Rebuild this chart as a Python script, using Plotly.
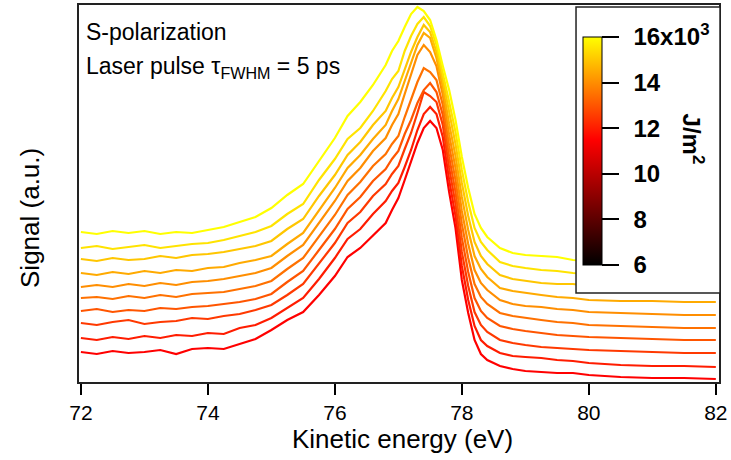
import plotly.graph_objects as go
from plotly.colors import sample_colorscale

FONT = "Liberation Sans, Arial, sans-serif"

# Kinetic energy grid (eV)
energy = [72.0, 72.25, 72.5, 72.75, 73.0, 73.25, 73.5, 73.75, 74.0, 74.25, 74.5, 74.75,
          75.0, 75.25, 75.5, 75.75, 76.0, 76.2, 76.4, 76.6, 76.8, 76.9, 77.0, 77.1,
          77.2, 77.3, 77.4, 77.5, 77.6, 77.7, 77.8, 77.9, 78.0, 78.1, 78.2, 78.3,
          78.4, 78.6, 78.8, 79.0, 79.25, 79.5, 79.75, 80.0, 80.5, 81.0, 81.5, 82.0]

# Offset spectra (a.u.), lowest fluence (red) to highest (yellow)
sig_1 = [48, 46, 49, 47, 48, 50, 46, 51, 52, 51, 56, 61, 70, 80, 88, 105, 124, 143, 152, 165, 177, 190, 202, 220,
         238, 257, 272, 279, 272, 250, 208, 172, 120, 87, 60, 46, 40, 34, 31, 29, 28, 27, 27, 25, 23, 22, 22, 21]
sig_2 = [62, 60, 63, 61, 64, 62, 65, 64, 67, 66, 72, 75, 82, 92, 102, 121, 142, 161, 171, 186, 199, 209, 217, 233,
         250, 270, 286, 293, 286, 263, 220, 184, 134, 100, 74, 60, 54, 47, 44, 43, 42, 40, 39, 37, 35, 34, 34, 33]
sig_3 = [77, 75, 78, 80, 76, 78, 79, 82, 81, 84, 86, 90, 95, 105, 116, 136, 157, 177, 188, 204, 216, 226, 234, 251,
         267, 287, 308, 304, 298, 275, 232, 196, 148, 114, 88, 75, 68, 60, 57, 55, 53, 52, 51, 50, 49, 48, 47, 47]
sig_4 = [89, 91, 88, 90, 89, 92, 91, 93, 94, 96, 98, 101, 106, 118, 129, 150, 171, 191, 203, 219, 231, 241, 249, 266,
         280, 297, 310, 317, 308, 285, 243, 208, 162, 128, 102, 89, 82, 74, 71, 69, 67, 65, 64, 63, 62, 61, 60, 60]
sig_5 = [102, 103, 101, 104, 102, 105, 103, 106, 107, 108, 111, 114, 119, 131, 142, 164, 185, 205, 218, 234, 246, 256, 264, 283,
         300, 318, 332, 328, 320, 295, 254, 220, 176, 142, 116, 103, 96, 87, 84, 82, 80, 78, 77, 75, 74, 73, 72, 72]
sig_6 = [113, 115, 113, 116, 114, 117, 115, 118, 119, 121, 124, 127, 132, 144, 155, 177, 199, 219, 232, 249, 262, 275, 286, 306,
         325, 345, 355, 348, 334, 305, 265, 232, 189, 156, 130, 117, 110, 100, 96, 94, 93, 91, 90, 88, 87, 86, 85, 85]
sig_7 = [127, 125, 128, 126, 129, 127, 130, 129, 132, 133, 137, 140, 144, 156, 167, 190, 212, 232, 245, 261, 275, 289, 301, 319,
         338, 355, 367, 362, 342, 313, 276, 244, 203, 170, 144, 131, 123, 112, 109, 107, 105, 103, 102, 100, 99, 99, 98, 98]
sig_8 = [141, 139, 142, 140, 141, 144, 142, 145, 146, 148, 151, 154, 159, 171, 181, 204, 225, 245, 258, 275, 289, 302, 313, 331,
         348, 363, 375, 368, 348, 320, 287, 256, 217, 184, 158, 144, 136, 125, 121, 119, 117, 116, 116, 114, 113, 112, 111, 111]
sig_9 = [152, 154, 151, 153, 155, 152, 154, 156, 157, 160, 164, 168, 174, 186, 196, 220, 241, 261, 272, 289, 309, 321, 329, 349,
         364, 376, 383, 374, 355, 328, 298, 268, 230, 198, 172, 158, 150, 138, 134, 132, 130, 129, 127, 126, 125, 124, 123, 123]
sig_10 = [168, 166, 169, 167, 169, 166, 168, 167, 170, 173, 178, 183, 192, 205, 216, 239, 262, 284, 298, 315, 335, 349, 359, 373,
          386, 393, 389, 380, 360, 334, 310, 280, 243, 212, 186, 172, 163, 152, 147, 145, 144, 143, 140, 139, 138, 137, 136, 136]

# Laser fluence of each spectrum (x10^3 J/m^2)
fluence = [11.5, 12.0, 12.5, 13.0, 13.5, 14.0, 14.5, 15.0, 15.5, 16.0]
series = [sig_1, sig_2, sig_3, sig_4, sig_5, sig_6, sig_7, sig_8, sig_9, sig_10]

x_ticks = [72, 74, 76, 78, 80, 82]
cb_ticks = [6, 8, 10, 12, 14, 16]
cb_labels = ["6", "8", "10", "12", "14", "16x10<sup>3</sup>"]
cmin, cmax = 6, 16
colorscale = [[0.0, "#000000"], [0.55, "#FF0000"], [1.0, "#FFFF00"]]

line_colors = sample_colorscale(colorscale, [(f - cmin) / (cmax - cmin) for f in fluence])

fig = go.Figure()
for f, s, c in zip(fluence, series, line_colors):
    fig.add_trace(go.Scatter(x=energy, y=s, mode="lines", line=dict(color=c, width=2.2),
                             showlegend=False, hoverinfo="skip"))

fig.add_trace(go.Scatter(
    x=[None], y=[None], mode="markers", showlegend=False, hoverinfo="skip",
    marker=dict(color=[cmin], cmin=cmin, cmax=cmax, colorscale=colorscale, showscale=True,
                colorbar=dict(x=0.7875, xanchor="left", y=0.6127, yanchor="middle",
                              len=228, lenmode="pixels", thickness=19, thicknessmode="pixels",
                              xpad=0, ypad=0, outlinewidth=1, outlinecolor="black",
                              ticks="outside", ticklen=17, tickwidth=1.5, tickcolor="black",
                              tickvals=cb_ticks,
                              ticktext=["\u2009\u2009<b>%s</b>" % t for t in cb_labels],
                              tickfont=dict(size=24, color="black", family=FONT),
                              bgcolor="rgba(0,0,0,0)", borderwidth=0))))

fig.update_layout(
    width=731, height=460,
    margin=dict(l=79, r=12, t=5, b=78, autoexpand=False),
    paper_bgcolor="white", plot_bgcolor="white",
    font=dict(family=FONT, color="black"),
    xaxis=dict(range=[71.97, 82.05], tickvals=x_ticks, ticktext=[str(t) for t in x_ticks],
               ticks="outside", ticklen=11, tickwidth=2, tickcolor="black",
               tickfont=dict(size=21, color="black", family=FONT),
               showline=True, linecolor="#222", linewidth=1.5, mirror=True,
               showgrid=False, zeroline=False, automargin=False),
    yaxis=dict(range=[18, 395], showticklabels=False, ticks="",
               showline=True, linecolor="#222", linewidth=1.5, mirror=True,
               showgrid=False, zeroline=False, automargin=False),
    shapes=[dict(type="rect", xref="paper", yref="paper", x0=0.7766, x1=1.0016, y0=0.2361, y1=0.9947,
                 fillcolor="white", line=dict(color="#222", width=1.5), layer="above")],
    annotations=[
        dict(text="S-polarization", xref="paper", yref="paper", x=0.0078, y=0.9284,
             xanchor="left", yanchor="middle", showarrow=False, font=dict(size=23, family=FONT)),
        dict(text="Laser pulse τ<sub>FWHM</sub> = 5 ps", xref="paper", yref="paper", x=0.0078, y=0.835,
             xanchor="left", yanchor="middle", showarrow=False, font=dict(size=23, family=FONT)),
        dict(text="Kinetic energy (eV)", xref="paper", yref="paper", x=0.5047, y=-0.1525,
             xanchor="center", yanchor="middle", showarrow=False, font=dict(size=26, family=FONT)),
        dict(text="Signal (a.u.)", xref="paper", yref="paper", x=-0.0766, y=0.435, textangle=-90,
             xanchor="center", yanchor="middle", showarrow=False, font=dict(size=26, family=FONT)),
        dict(text="<b>J/m<sup>2</sup></b>", xref="paper", yref="paper", x=0.96, y=0.6446, textangle=90,
             xanchor="center", yanchor="middle", showarrow=False, font=dict(size=24, family=FONT)),
    ],
)

fig.write_html("out.html", config={"displayModeBar": False},
               post_script="document.body.style.margin='0';document.body.style.padding='0';")
